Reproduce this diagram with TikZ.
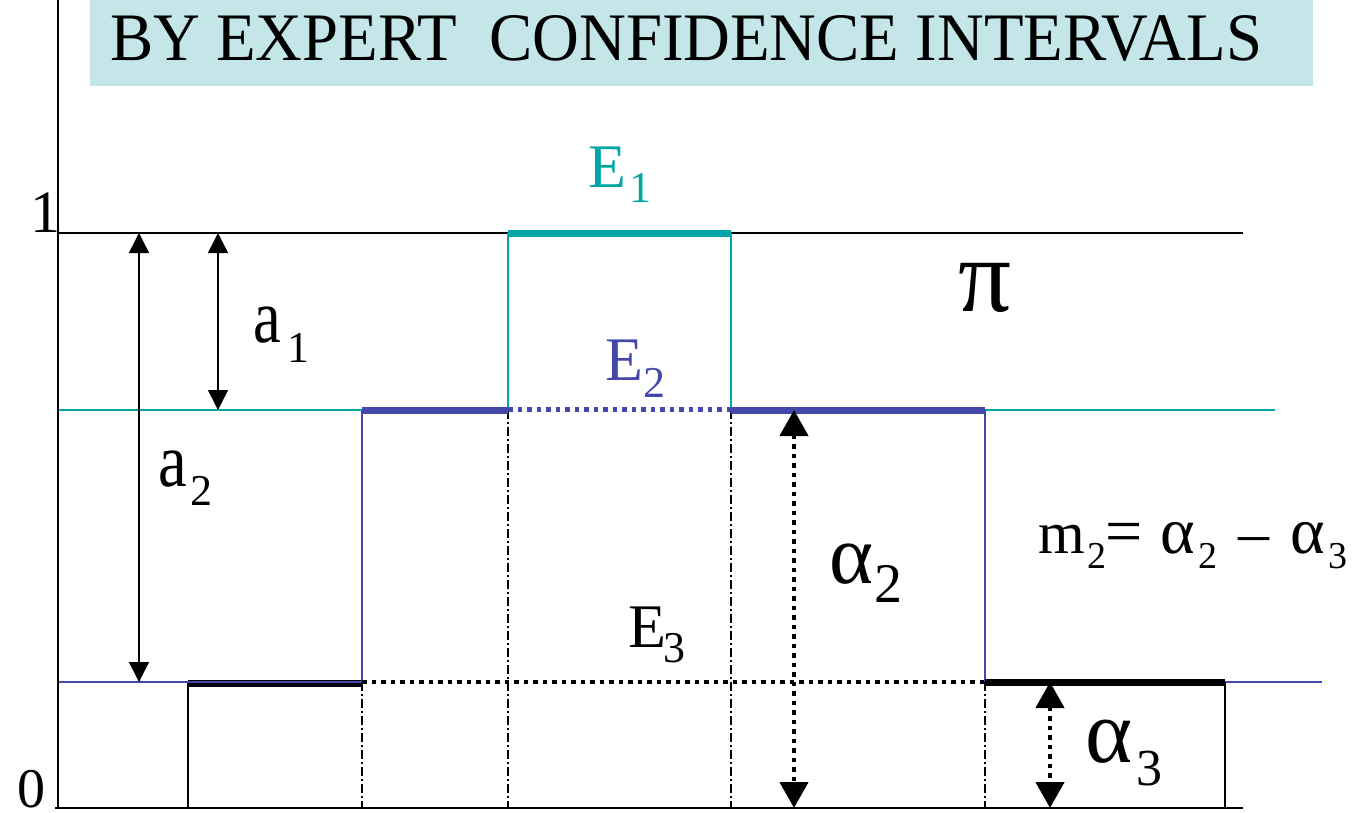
\documentclass[tikz,border=0pt]{standalone}
\usepackage{fontspec}
\setmainfont{Liberation Serif}
\newfontfamily\tms{Liberation Serif}
\usetikzlibrary{arrows.meta}
\definecolor{tealc}{RGB}{0,166,166}
\definecolor{bluec}{RGB}{68,72,170}
\definecolor{bannerc}{RGB}{196,230,232}
\newcommand\fsz[1]{\tms\fontsize{#1}{#1}\selectfont}
\begin{document}
\begin{tikzpicture}[x=1pt,y=-1pt,
  lbl/.style={inner sep=0pt, outer sep=0pt, anchor=base west},
  thinln/.style={line width=1.5pt},
  thickln/.style={line width=7pt},
  dotln/.style={line width=4.5pt, dash pattern=on 4.5pt off 5pt},
  dashdot/.style={line width=1.3pt, dash pattern=on 9pt off 3pt on 2pt off 3pt},
  dimarrow/.style={line width=1.5pt, {Triangle[length=20pt,width=20pt]}-{Triangle[length=20pt,width=20pt]}},
  bigarrow/.style={line width=4.5pt, dash pattern=on 4.5pt off 5pt, {Triangle[length=26pt,width=28pt]}-{Triangle[length=26pt,width=28pt]}}
]
\useasboundingbox (0,0) rectangle (1357,813);
% banner
\fill[bannerc] (90,0) rectangle (1313,86);
\node[lbl] (title) at (110,61) {\fsz{60}\resizebox{1152pt}{45pt}{BY EXPERT\ \ CONFIDENCE INTERVALS}};
% coordinates
\coordinate (o) at (58,808);
\coordinate (top) at (58,0);
\coordinate (xend) at (1243,808);
% thin reference lines
\draw[thinln] (58,233) -- (1243,233);
\draw[thinln,tealc] (58,410) -- (362,410);
\draw[thinln,tealc] (985,410) -- (1275,410);
\draw[thinln,bluec] (1225,682) -- (1322,682);
% verticals
\draw[thinln,tealc] (508,233) -- (508,410);
\draw[thinln,tealc] (731,233) -- (731,410);
\draw[thinln,bluec] (362,410) -- (362,682);
\draw[thinln,bluec] (985,410) -- (985,682);
\draw[thinln] (188,682) -- (188,808);
\draw[thinln] (1225,682) -- (1225,808);
\draw[dashdot] (362,682) -- (362,808);
\draw[dashdot] (985,682) -- (985,808);
\draw[dashdot] (508,410) -- (508,808);
\draw[dashdot] (731,410) -- (731,808);
% thick levels
\draw[thickln,tealc] (508,233.5) -- (731,233.5);
\draw[thickln,bluec] (362,410) -- (508,410);
\draw[thickln,bluec] (731,410) -- (985,410);
\draw[dotln,bluec] (508,409.5) -- (731,409.5);
\draw[line width=7pt] (188,683.5) -- (362,683.5);
\draw[thinln,bluec] (58,682) -- (362,682);
\draw[thickln] (985,682) -- (1225,682);
\draw[dotln] (362,682) -- (985,682);
% axes
\draw[line width=2pt] (top) -- (o);
\draw[line width=2pt] (55,808) -- (xend);
% arrows
\coordinate (a1t) at (218,233); \coordinate (a1b) at (218,410);
\coordinate (a2t) at (139,233); \coordinate (a2b) at (139,682);
\coordinate (al2t) at (794,410); \coordinate (al2b) at (794,808);
\coordinate (al3t) at (1050,682); \coordinate (al3b) at (1050,808);
\draw[dimarrow] (a1t) -- (a1b);
\draw[dimarrow] (a2t) -- (a2b);
\draw[bigarrow] (al2t) -- (al2b);
\draw[bigarrow] (al3t) -- (al3b);
% labels
\node[lbl] (one) at (30,233) {\fsz{60}1};
\node[lbl] (zero) at (17,807) {\fsz{56}0};
\node[lbl] (a1) at (253,342) {\fsz{76}\scalebox{0.82}[1]{a}};
\node[lbl] (a1s) at (287,362) {\fsz{44}1};
\node[lbl] (a2) at (158,486) {\fsz{76}\scalebox{0.85}[1]{a}};
\node[lbl] (a2s) at (190,505) {\fsz{44}2};
\node[lbl,text=tealc] (e1) at (588,188) {\fsz{62}E};
\node[lbl,text=tealc] (e1s) at (629,203) {\fsz{44}1};
\node[lbl,text=bluec] (e2) at (605,380) {\fsz{62}E};
\node[lbl,text=bluec] (e2s) at (643,397) {\fsz{44}2};
\node[lbl] (e3) at (628,647) {\fsz{62}E};
\node[lbl] (e3s) at (663,662) {\fsz{44}3};
\node[lbl] (pi) at (958,311) {\fsz{105}π};
\node[lbl] (al2) at (829,583) {\fsz{84}α};
\node[lbl] (al2s) at (874,602) {\fsz{56}2};
\node[lbl] (al3) at (1085,762) {\fsz{90}α};
\node[lbl] (al3s) at (1136,785) {\fsz{52}3};
% m2 = alpha2 - alpha3
\node[lbl] (m2m) at (1038,553) {\fsz{60}m};
\node[lbl] (m2s) at (1087,568) {\fsz{38}2};
\node[lbl] (m2eq) at (1105,553) {\fsz{66}=};
\node[lbl] (m2a) at (1160,553) {\fsz{66}α};
\node[lbl] (m2as) at (1198,568) {\fsz{38}2};
\node[lbl] (m2mi) at (1238,553) {\fsz{62}–};
\node[lbl] (m2b) at (1290,553) {\fsz{66}α};
\node[lbl] (m2bs) at (1328,568) {\fsz{38}3};
\end{tikzpicture}
\end{document}
